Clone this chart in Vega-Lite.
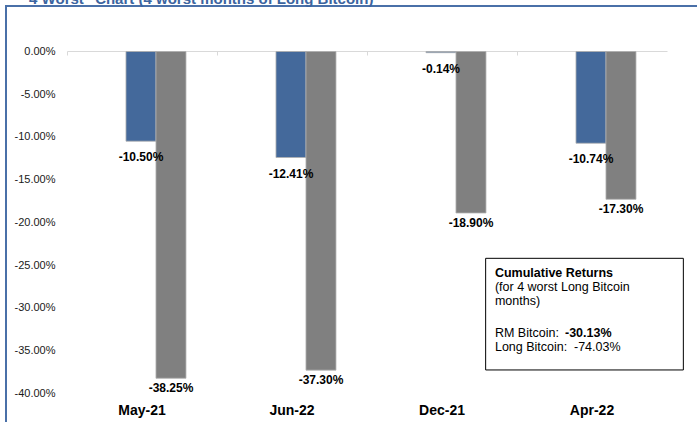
{
  "$schema": "https://vega.github.io/schema/vega-lite/v6.json",
  "width": 700,
  "height": 425,
  "autosize": {"type": "none"},
  "padding": {"left": 6, "top": 6, "right": -9, "bottom": -9},
  "background": "white",
  "title": {
    "text": "\"4 Worst\" Chart (4 worst months of Long Bitcoin)",
    "anchor": "start",
    "frame": "group",
    "dx": 16,
    "dy": 13,
    "offset": 0,
    "baseline": "alphabetic",
    "font": "Liberation Sans",
    "fontSize": 15,
    "fontWeight": "bold",
    "color": "#3b64a0"
  },
  "config": {
    "view": {"stroke": "#4a70a8", "strokeWidth": 2},
    "font": "Liberation Sans",
    "locale": {
      "number": {"decimal": ".", "thousands": ",", "grouping": [3], "currency": ["$", ""], "minus": "-"}
    }
  },
  "datasets": {
    "monthly": [
      {"month": "May-21", "series": "RM Bitcoin", "value": -0.1050},
      {"month": "May-21", "series": "Long Bitcoin", "value": -0.3825},
      {"month": "Jun-22", "series": "RM Bitcoin", "value": -0.1241},
      {"month": "Jun-22", "series": "Long Bitcoin", "value": -0.3730},
      {"month": "Dec-21", "series": "RM Bitcoin", "value": -0.0014},
      {"month": "Dec-21", "series": "Long Bitcoin", "value": -0.1890},
      {"month": "Apr-22", "series": "RM Bitcoin", "value": -0.1074},
      {"month": "Apr-22", "series": "Long Bitcoin", "value": -0.1730}
    ],
    "cumulative": [
      {"series": "RM Bitcoin", "value": -0.3013},
      {"series": "Long Bitcoin", "value": -0.7403}
    ]
  },
  "resolve": {"axis": {"x": "independent", "y": "independent"}},
  "layer": [
    {
      "data": {"name": "monthly"},
      "mark": {"type": "bar", "stroke": "#b0b0b0", "strokeWidth": 0.8},
      "encoding": {
        "x": {
          "field": "month", "type": "nominal",
          "sort": ["May-21", "Jun-22", "Dec-21", "Apr-22"],
          "scale": {"range": [61, 661], "paddingInner": 0, "paddingOuter": 0},
          "axis": {
            "orient": "bottom", "title": null, "labelAngle": 0,
            "labelFont": "Liberation Sans", "labelFontSize": 14, "labelFontWeight": "bold",
            "labelColor": "#000", "domain": false, "ticks": false, "tickSize": 0,
            "labelPadding": 0, "offset": -28, "labelBaseline": "top"
          }
        },
        "xOffset": {
          "field": "series", "type": "nominal",
          "scale": {"domain": ["", "RM Bitcoin", "Long Bitcoin"], "paddingInner": 0, "paddingOuter": 1, "align": 0.483}
        },
        "y": {
          "field": "value", "type": "quantitative",
          "scale": {"domain": [-0.4, 0], "range": [387.2, 45.5], "nice": false, "zero": false},
          "axis": {
            "orient": "left", "title": null,
            "values": [0, -0.05, -0.1, -0.15, -0.2, -0.25, -0.3, -0.35, -0.4],
            "format": ".2%", "grid": false, "domain": false, "ticks": false, "tickSize": 0,
            "labelPadding": 0, "offset": -49, "labelFont": "Liberation Sans",
            "labelFontSize": 11, "labelColor": "#1a1a1a", "labelAlign": "right",
            "labelBaseline": "middle"
          }
        },
        "color": {
          "field": "series", "type": "nominal",
          "scale": {"domain": ["RM Bitcoin", "Long Bitcoin"], "range": ["#44699b", "#808080"]},
          "legend": null
        }
      }
    },
    {
      "data": {"name": "monthly"},
      "transform": [{"filter": "datum.series === 'RM Bitcoin'"}],
      "mark": {"type": "text", "dy": 16, "fontWeight": "bold", "fontSize": 12, "font": "Liberation Sans", "baseline": "middle", "color": "#000"},
      "encoding": {
        "x": {
          "field": "month", "type": "nominal",
          "sort": ["May-21", "Jun-22", "Dec-21", "Apr-22"],
          "axis": {
            "orient": "bottom", "title": null, "labels": false, "domain": true,
            "domainColor": "#d9d9d9", "domainWidth": 1, "ticks": true, "tickSize": 4,
            "tickColor": "#d9d9d9", "tickWidth": 1, "bandPosition": 0, "offset": -380, "grid": false
          }
        },
        "xOffset": {"field": "series", "type": "nominal"},
        "y": {"field": "value", "type": "quantitative", "axis": null},
        "text": {"field": "value", "type": "quantitative", "format": ".2%"}
      }
    },
    {
      "data": {"name": "monthly"},
      "transform": [{"filter": "datum.series === 'Long Bitcoin'"}],
      "mark": {"type": "text", "dy": 10, "fontWeight": "bold", "fontSize": 12, "font": "Liberation Sans", "baseline": "middle", "color": "#000"},
      "encoding": {
        "x": {"field": "month", "type": "nominal", "sort": ["May-21", "Jun-22", "Dec-21", "Apr-22"], "axis": null},
        "xOffset": {"field": "series", "type": "nominal"},
        "y": {"field": "value", "type": "quantitative", "axis": null},
        "text": {"field": "value", "type": "quantitative", "format": ".2%"}
      }
    },
    {
      "data": {"values": [{}]},
      "mark": {"type": "rect", "fill": "white", "stroke": "#000", "strokeWidth": 1},
      "encoding": {
        "x": {"datum": "Dec-21", "type": "nominal", "bandPosition": 0.791, "axis": null},
        "x2": {"datum": "Apr-22", "bandPosition": 1.109},
        "y": {"datum": -0.2421, "type": "quantitative", "axis": null},
        "y2": {"datum": -0.3728}
      }
    },
    {
      "data": {"values": [{}]},
      "mark": {"type": "text", "align": "left", "baseline": "middle", "fontWeight": "bold", "fontSize": 12.5, "font": "Liberation Sans", "color": "#000"},
      "encoding": {
        "x": {"datum": "Dec-21", "type": "nominal", "bandPosition": 0.853, "axis": null},
        "y": {"datum": -0.2589, "type": "quantitative", "axis": null},
        "text": {"value": "Cumulative Returns"}
      }
    },
    {
      "data": {"values": [{}]},
      "mark": {"type": "text", "align": "left", "baseline": "middle", "fontSize": 12.5, "lineHeight": 14, "font": "Liberation Sans", "color": "#000"},
      "encoding": {
        "x": {"datum": "Dec-21", "type": "nominal", "bandPosition": 0.853, "axis": null},
        "y": {"datum": -0.2753, "type": "quantitative", "axis": null},
        "text": {"value": ["(for 4 worst Long Bitcoin", "months)"]}
      }
    },
    {
      "data": {"values": [{}]},
      "mark": {"type": "text", "align": "left", "baseline": "middle", "fontSize": 12.5, "lineHeight": 13.4, "font": "Liberation Sans", "color": "#000"},
      "encoding": {
        "x": {"datum": "Dec-21", "type": "nominal", "bandPosition": 0.853, "axis": null},
        "y": {"datum": -0.3299, "type": "quantitative", "axis": null},
        "text": {"value": ["RM Bitcoin:", "Long Bitcoin:"]}
      }
    },
    {
      "data": {"name": "cumulative"},
      "transform": [{"filter": "datum.series === 'RM Bitcoin'"}],
      "mark": {"type": "text", "align": "left", "baseline": "middle", "fontWeight": "bold", "fontSize": 12.5, "font": "Liberation Sans", "color": "#000"},
      "encoding": {
        "x": {"datum": "Apr-22", "type": "nominal", "bandPosition": 0.32, "axis": null},
        "y": {"datum": -0.3299, "type": "quantitative", "axis": null},
        "text": {"field": "value", "type": "quantitative", "format": ".2%"}
      }
    },
    {
      "data": {"name": "cumulative"},
      "transform": [{"filter": "datum.series === 'Long Bitcoin'"}],
      "mark": {"type": "text", "align": "left", "baseline": "middle", "fontSize": 12.5, "font": "Liberation Sans", "color": "#000"},
      "encoding": {
        "x": {"datum": "Apr-22", "type": "nominal", "bandPosition": 0.38, "axis": null},
        "y": {"datum": -0.3456, "type": "quantitative", "axis": null},
        "text": {"field": "value", "type": "quantitative", "format": ".2%"}
      }
    }
  ]
}
